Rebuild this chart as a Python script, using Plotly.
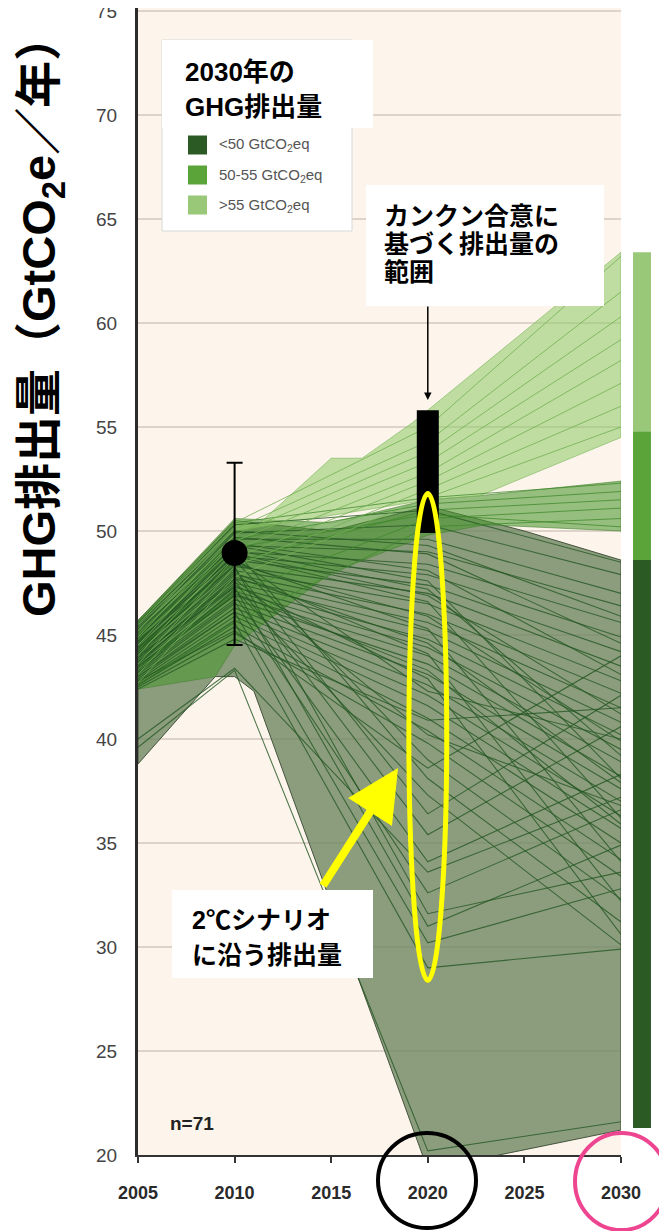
import plotly.graph_objects as go

# ---------------- data ----------------
YEARS = [2005, 2010, 2020, 2030]

# scenario pathways (GtCO2e/yr) at 2005, 2010, 2020, 2030
LOW_LINES = [  # 2030 emissions < 50
    [45.6, 50.3, 51.0, 48.5], [45.3, 49.9, 50.3, 47.9], [45.1, 49.6, 49.6, 47.0],
    [44.9, 49.3, 49.0, 46.4], [44.7, 49.0, 48.4, 45.6], [44.6, 48.8, 47.9, 44.9],
    [44.4, 48.6, 47.4, 44.2], [44.3, 48.3, 47.0, 43.5], [44.1, 48.1, 46.5, 42.8],
    [44.0, 47.9, 46.0, 42.2], [43.9, 47.7, 45.6, 41.5], [43.7, 47.5, 45.2, 40.8],
    [43.6, 47.3, 44.8, 40.2], [43.5, 47.1, 44.4, 39.5], [43.4, 46.9, 44.0, 38.9],
    [43.3, 46.7, 43.6, 38.2], [43.1, 46.5, 43.1, 37.6], [43.0, 46.3, 42.6, 37.0],
    [42.9, 46.1, 42.1, 36.3], [42.8, 45.9, 41.6, 35.7], [42.7, 45.7, 41.0, 35.0],
    [42.6, 45.4, 40.4, 34.2], [42.5, 45.1, 39.8, 33.4], [44.2, 48.6, 39.0, 32.3],
    [44.6, 49.1, 38.1, 31.2], [43.2, 47.2, 37.3, 30.1], [44.3, 48.2, 36.4, 42.1],
    [43.9, 47.6, 35.4, 40.6], [43.5, 46.9, 34.1, 38.3], [43.2, 46.6, 32.6, 36.6],
    [44.8, 48.3, 31.6, 33.6], [44.0, 47.3, 31.0, 34.9], [43.0, 46.1, 30.2, 32.8],
    [42.6, 45.6, 29.0, 29.9], [45.0, 49.3, 47.6, 38.1], [44.7, 48.8, 46.6, 36.2],
    [44.4, 48.5, 45.3, 34.1], [44.1, 48.0, 44.1, 32.2], [43.7, 47.4, 42.9, 30.6],
    [45.4, 49.7, 48.9, 44.6], [45.2, 49.4, 48.1, 43.1], [42.4, 44.8, 40.9, 41.5],
    [42.8, 45.2, 38.6, 44.0], [40.0, 43.4, 33.6, 37.2], [39.6, 43.3, 20.2, 21.6],
    [44.5, 48.9, 46.9, 41.2], [44.2, 48.4, 45.9, 39.9], [43.8, 47.8, 44.6, 37.9],
    [43.4, 47.0, 43.3, 35.9], [45.5, 50.0, 49.3, 45.9], [44.9, 49.1, 47.2, 39.2],
    [44.3, 48.7, 42.3, 40.0], [43.6, 47.7, 40.2, 36.8],
]
MID_LINES = [  # 2030 emissions 50-55
    [45.6, 50.4, 51.6, 52.3], [45.0, 49.6, 51.3, 51.9], [44.3, 48.5, 51.0, 51.5],
    [43.4, 47.0, 50.6, 51.1], [42.6, 45.6, 50.2, 50.6], [44.8, 49.2, 50.8, 50.2],
]
HIGH_LINES = [  # 2030 emissions > 55
    [45.5, 50.4, 55.0, 63.2], [45.2, 50.1, 54.3, 61.5], [44.9, 49.8, 53.8, 60.3],
    [44.5, 49.5, 53.3, 59.2], [44.0, 49.1, 52.8, 58.2], [43.6, 48.7, 52.4, 57.1],
    [43.1, 48.3, 52.0, 56.0], [42.7, 47.8, 51.6, 55.0],
]

# envelopes of each group
LOW_UP_X = [2005, 2010, 2015, 2020, 2025, 2030]
LOW_UP_Y = [45.7, 50.5, 50.0, 51.2, 50.0, 48.6]
LOW_LO_X = [2005, 2009, 2010, 2011, 2020, 2030]
LOW_LO_Y = [38.8, 43.0, 43.0, 42.3, 19.3, 21.2]
MID_UP_X = [2005, 2010, 2015, 2020, 2022.7, 2030]
MID_UP_Y = [45.7, 50.6, 50.4, 51.5, 51.7, 52.4]
MID_LO_X = [2005, 2009, 2010, 2015, 2020, 2023, 2030]
MID_LO_Y = [42.4, 43.0, 44.5, 48.0, 49.8, 50.3, 50.0]
HIGH_UP_X = [2010, 2011.2, 2015, 2016.6, 2019.2, 2030]
HIGH_UP_Y = [50.5, 50.3, 53.5, 53.5, 55.2, 63.4]
HIGH_LO_X = [2010, 2020, 2022.7, 2030]
HIGH_LO_Y = [50.0, 51.5, 51.7, 54.5]

# 2010 historic emissions with range
HIST_X = [2010]
HIST_Y = [48.94]
HIST_HI = [53.28]
HIST_LO = [44.52]

# Cancun pledges range in 2020
CANCUN_X = [2020]
CANCUN_LO = [49.9]
CANCUN_HI = [55.8]

# 2030 ranges bar
RANGE_NAMES = ["<50 GtCO<sub>2</sub>eq", "50-55 GtCO<sub>2</sub>eq", ">55 GtCO<sub>2</sub>eq"]
RANGE_LO = [21.3, 48.6, 54.8]
RANGE_HI = [48.6, 54.8, 63.4]
RANGE_COLORS = ["#2B5A25", "#5BA43A", "#98C878"]

X_TICKS = [2005, 2010, 2015, 2020, 2025, 2030]
Y_TICKS = [20, 25, 30, 35, 40, 45, 50, 55, 60, 65, 70, 75]

# ---------------- layout helpers (page pixel -> paper) ----------------
BODY = 8                      # default page margin around the figure
FW, FH = 659, 1223
ML, MR, MT, MB = 130, 0, 0, 76
PW, PH = FW - ML - MR, FH - MT - MB
PX_PER_UNIT = 20.8
Y_TOP = 20 + PH / PX_PER_UNIT


def px(x):
    return (x - BODY - ML) / PW


def py(y):
    return (BODY + MT + PH - y) / PH


JP = "Liberation Sans, Noto Sans CJK JP, sans-serif"

fig = go.Figure()


def band(ux, uy, lx, ly, fill, edge):
    xs = list(ux) + list(reversed(lx)) + [ux[0]]
    ys = list(uy) + list(reversed(ly)) + [uy[0]]
    fig.add_trace(go.Scatter(x=xs, y=ys, fill="toself", fillcolor=fill, mode="lines",
                             line=dict(color=edge, width=1), hoverinfo="skip"))


def lines(group, color, width=1):
    xs, ys = [], []
    for ln in group:
        xs += YEARS + [None]
        ys += ln + [None]
    fig.add_trace(go.Scatter(x=xs, y=ys, mode="lines", line=dict(color=color, width=width),
                             hoverinfo="skip", connectgaps=False))


band(LOW_UP_X, LOW_UP_Y, LOW_LO_X, LOW_LO_Y, "rgba(110,135,97,0.8)", "rgba(55,72,50,0.9)")
band(MID_UP_X, MID_UP_Y, MID_LO_X, MID_LO_Y, "rgba(75,150,48,0.58)", "rgba(70,130,50,0.6)")
band(HIGH_UP_X, HIGH_UP_Y, HIGH_LO_X, HIGH_LO_Y, "rgba(150,205,110,0.6)", "rgba(120,180,90,0.6)")
lines(LOW_LINES, "rgba(38,88,36,0.8)", 1.1)
lines(MID_LINES, "rgba(60,135,40,0.75)")
lines(HIGH_LINES, "rgba(115,175,85,0.8)")

# Cancun range (thick black bar drawn above the pathways)
fig.add_trace(go.Scatter(x=CANCUN_X * 2, y=[CANCUN_LO[0], CANCUN_HI[0]], mode="lines",
                         line=dict(color="black", width=22), hoverinfo="skip"))
# historic point
fig.add_trace(go.Scatter(
    x=HIST_X, y=HIST_Y, mode="markers", marker=dict(size=26, color="black"),
    error_y=dict(type="data", symmetric=False,
                 array=[h - v for h, v in zip(HIST_HI, HIST_Y)],
                 arrayminus=[v - l for v, l in zip(HIST_Y, HIST_LO)],
                 color="black", thickness=2, width=8),
    hoverinfo="skip"))
# 2030 range bar
fig.add_trace(go.Bar(x=[0.4565] * 3, y=[h - l for h, l in zip(RANGE_HI, RANGE_LO)], base=RANGE_LO,
                     width=0.39, marker=dict(color=RANGE_COLORS, line=dict(width=0)),
                     xaxis="x2", yaxis="y2", hoverinfo="skip"))

shapes = [
    dict(type="rect", xref="x domain", yref="y domain", x0=0, x1=1, y0=0, y1=1,
         fillcolor="#FDF5EC", line=dict(width=0), layer="below"),
    # legend box
    dict(type="rect", xref="paper", yref="paper", x0=px(162), x1=px(352), y0=py(231), y1=py(40),
         fillcolor="white", line=dict(color="#D8D8D8", width=1), layer="above"),
    # title box
    dict(type="rect", xref="paper", yref="paper", x0=px(162), x1=px(373), y0=py(128), y1=py(40),
         fillcolor="white", line=dict(width=0), layer="above"),
    # Cancun box
    dict(type="rect", xref="paper", yref="paper", x0=px(366), x1=px(604), y0=py(306), y1=py(185),
         fillcolor="white", line=dict(width=0), layer="above"),
    # 2C box
    dict(type="rect", xref="paper", yref="paper", x0=px(172), x1=px(373), y0=py(978), y1=py(890),
         fillcolor="white", line=dict(width=0), layer="above"),
    # yellow ellipse
    dict(type="circle", xref="x", yref="y", x0=2019.02, x1=2020.98, y0=28.4, y1=51.8,
         line=dict(color="#FFFF00", width=5), layer="above"),
    # black ellipse around 2020
    dict(type="circle", xref="paper", yref="paper", x0=px(378), x1=px(476), y0=py(1228), y1=py(1133),
         line=dict(color="black", width=4), layer="above"),
    # pink ellipse around 2030
    dict(type="circle", xref="paper", yref="paper", x0=px(575), x1=px(668), y0=py(1230), y1=py(1133),
         line=dict(color="#EE4591", width=4), layer="above"),
]
for c, yc in zip(RANGE_COLORS, [145, 175, 205]):
    shapes.append(dict(type="rect", xref="paper", yref="paper", x0=px(188), x1=px(207),
                       y0=py(yc + 9.5), y1=py(yc - 9.5), fillcolor=c, line=dict(width=0), layer="above"))

ann = [
    # arrows
    dict(x=2020, y=56.3, xref="x", yref="y", text="", showarrow=True, ax=0, ay=-95,
         arrowhead=2, arrowsize=1, arrowwidth=1.5, arrowcolor="black"),
    dict(x=2018.46, y=38.6, xref="x", yref="y", text="", showarrow=True, ax=-76, ay=119,
         arrowhead=2, arrowsize=1.3, arrowwidth=8, arrowcolor="#FFFF00"),
    # y title
    dict(x=px(42), y=py(316), xref="paper", yref="paper", showarrow=False, textangle=-90,
         text="GHG排出量（GtCO<sub>2</sub>e／年）", xanchor="center", yanchor="middle",
         font=dict(family=JP, size=47, color="black", weight="bold")),
    dict(x=px(168), y=py(1123), xref="paper", yref="paper", showarrow=False, text="n=71",
         xanchor="left", yanchor="middle",
         font=dict(family="Liberation Sans", size=19, color="#222", weight="bold")),
]
for txt, x, y in [("2030年の", 183, 72), ("GHG排出量", 183, 107),
                  ("カンクン合意に", 382, 216), ("基づく排出量の", 382, 244), ("範囲", 382, 272),
                  ("2℃シナリオ", 190, 920), ("に沿う排出量", 190, 955)]:
    ann.append(dict(x=px(x), y=py(y), xref="paper", yref="paper", showarrow=False, text=txt,
                    xanchor="left", yanchor="middle",
                    font=dict(family=JP, size=26 if y < 150 else 25, color="black", weight="bold")))
for name, yc in zip(RANGE_NAMES, [145, 175, 205]):
    ann.append(dict(x=px(217), y=py(yc), xref="paper", yref="paper", showarrow=False, text=name,
                    xanchor="left", yanchor="middle",
                    font=dict(family="Liberation Sans Narrow, Liberation Sans", size=15, color="#555")))

fig.update_layout(
    width=FW, height=FH, margin=dict(l=ML, r=MR, t=MT, b=MB, autoexpand=False),
    paper_bgcolor="white", plot_bgcolor="rgba(0,0,0,0)",
    showlegend=False, barmode="overlay",
    shapes=shapes, annotations=ann,
    xaxis=dict(domain=[0, px(621)], range=[2005, 2030], tickvals=X_TICKS,
               ticktext=[str(t) for t in X_TICKS], ticks="outside", ticklen=6, tickwidth=1.5,
               tickcolor="#333", showline=True, linecolor="#333", linewidth=2, showgrid=False,
               zeroline=False, ticklabelstandoff=14, automargin=False,
               tickfont=dict(family="Liberation Sans", size=18, color="#2a2a2a", weight="bold")),
    yaxis=dict(domain=[0, 1], range=[20, Y_TOP], tickvals=Y_TICKS, showgrid=True,
               gridcolor="#DDD3C8", gridwidth=1.5, showline=True, linecolor="#2b2b2b", linewidth=3,
               ticks="", zeroline=False, ticklabelstandoff=14, automargin=False,
               ticklabeloverflow="allow",
               tickfont=dict(family="Liberation Sans", size=19, color="#444")),
    xaxis2=dict(domain=[px(621), 1], range=[0, 1], visible=False, anchor="y2", automargin=False),
    yaxis2=dict(domain=[0, 1], range=[20, Y_TOP], visible=False, anchor="x2", automargin=False),
)

fig.write_html("out.html", config={"responsive": False})
